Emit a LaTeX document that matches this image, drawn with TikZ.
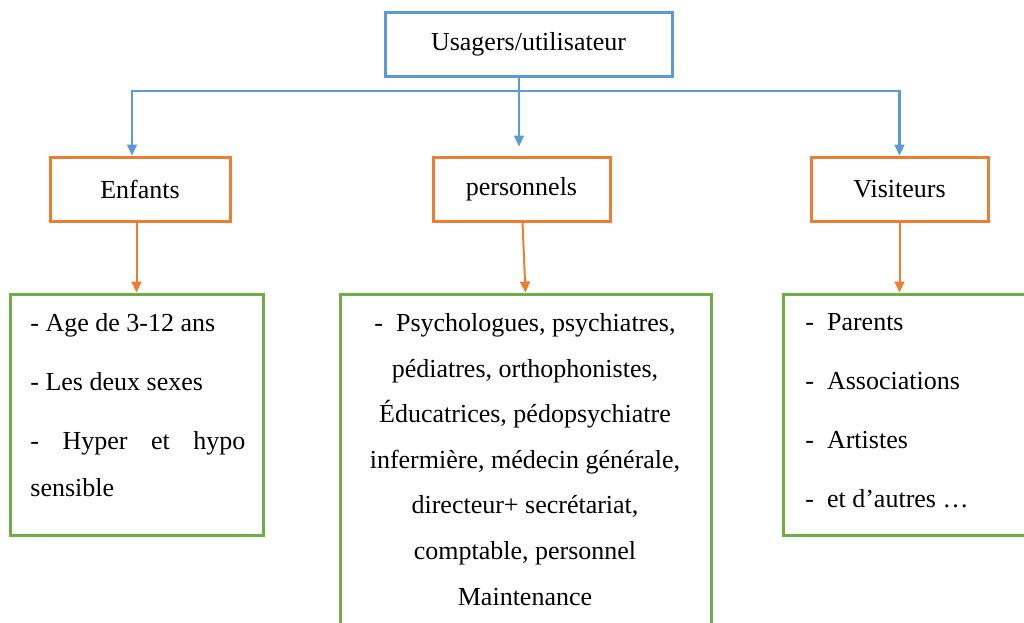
\documentclass[tikz,border=0pt]{standalone}
\usepackage{fontspec}
\setmainfont{Liberation Serif}
\usetikzlibrary{arrows.meta}
\definecolor{usrblue}{HTML}{5B9BD5}
\definecolor{grporange}{HTML}{ED7D31}
\definecolor{lstgreen}{HTML}{70AD47}

\begin{document}
\begin{tikzpicture}[>={Triangle[width=5pt,length=5.5pt]}, every node/.style={font=\fontsize{13}{23}\selectfont}, root/.style={draw=usrblue, line width=1.5pt, minimum width=143.5pt, minimum height=32pt}, group/.style={draw=grporange, line width=1.5pt, minimum width=88.5pt, minimum height=32pt}, listbox/.style={draw=lstgreen, line width=1.5pt}, listtext/.style={inner sep=0pt, font=\fontsize{13}{23.5}\selectfont\setlength{\parskip}{6pt}}, bluelink/.style={draw=usrblue, line width=1.1pt}, orangelink/.style={draw=grporange, line width=1pt}]
\useasboundingbox (0pt, 0pt) rectangle (512pt, -311pt);
\clip (0pt, 0pt) rectangle (512pt, -311pt);
\draw (264.25pt, -22pt)node[root](usr){Usagers/utilisateur};
\draw (70pt, -94.5pt)node[group, minimum width=90pt](enf){Enfants};
\draw (260.75pt, -94.5pt)node[group](pers){personnels};
\draw (449.75pt, -94.5pt)node[group](vis){Visiteurs};
\draw (68.25pt, -207.25pt)node[listbox, minimum width=126.5pt, minimum height=120.5pt](enflist){};
\draw (262.75pt, -241pt)node[listbox, minimum width=185.5pt, minimum height=188pt](perslist){};
\draw (455.75pt, -207.25pt)node[listbox, minimum width=128.5pt, minimum height=120.5pt](vislist){};
\draw (15pt, -156.5pt)node[listtext, anchor=north west, text width=107.5pt, align=justify](enftxt){- Age de 3-12 ans\par - Les deux sexes\par - Hyper et hypo \mbox{sensible}};
\draw (262.5pt, -156.5pt)node[listtext, anchor=north, text width=185pt, align=flush center, font=\fontsize{13}{22.8}\selectfont](perstxt){-~ Psychologues, psychiatres,\\ pédiatres, orthophonistes,\\ Éducatrices, pédopsychiatre\\ infermière, médecin générale,\\ directeur+ secrétariat,\\ comptable, personnel\\ Maintenance};
\draw (402.5pt, -156.5pt)node[listtext, anchor=north west, text width=100pt, align=flush left](vistxt){-~ Parents\par -~ Associations\par -~ Artistes\par -~ et d’autres …};
\coordinate (fork) at (259.5pt, -45.5pt);
\draw[bluelink] (usr.south -| fork) -- (fork);
\draw[bluelink, ->] (fork) -| ([xshift=-4pt]enf.north);
\draw[bluelink, ->] (fork) -| (vis.north);
\draw[bluelink, ->, shorten >=4.5pt] (fork) -- (fork |- pers.north);
\draw[orangelink, ->] (enf.south -| enflist.north) -- (enflist.north);
\draw[orangelink, ->] ([xshift=0.5pt]pers.south) -- (perslist.north);
\draw[orangelink, ->] (vis.south) -- (vis.south |- vislist.north);
\end{tikzpicture}
\end{document}
